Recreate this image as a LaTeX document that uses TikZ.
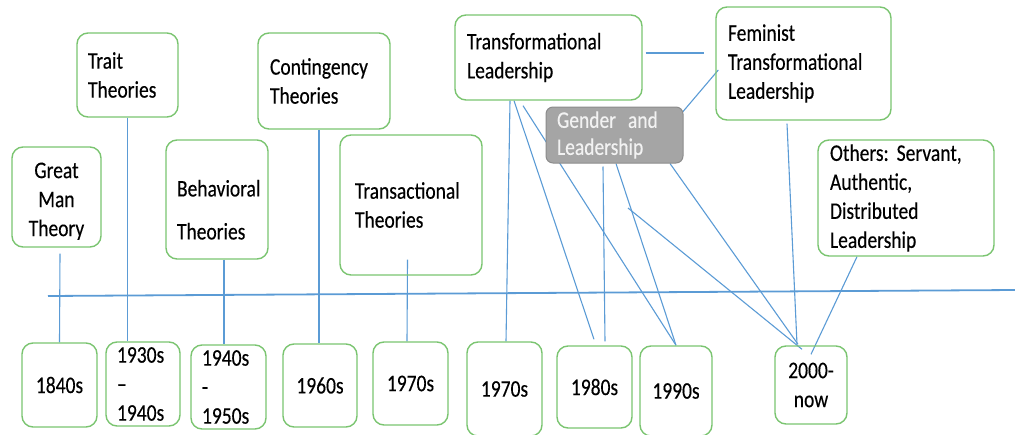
\documentclass[tikz,border=0pt]{standalone}
\usepackage{fontspec}
\setmainfont{Carlito}[FakeStretch=0.82,FakeBold=0.3]
\usetikzlibrary{backgrounds,calc}
\definecolor{boxgreen}{RGB}{122,196,112}
\definecolor{lineblue}{RGB}{91,155,213}
\definecolor{gbfill}{RGB}{165,165,165}
\definecolor{gbdraw}{RGB}{140,140,140}
\definecolor{gbtext}{RGB}{242,242,242}
\tikzset{
  theory/.style={draw=boxgreen, line width=1.4pt, rounded corners=11pt, inner xsep=11pt, inner ysep=0pt,
    align=left, font=\fontsize{23.8}{29}\selectfont\frenchspacing, text=black},
  datebox/.style={draw=boxgreen, line width=1.4pt, rounded corners=11pt, inner sep=0pt,
    align=center, font=\fontsize{23.8}{29}\selectfont, text=black},
  graybox/.style={draw=gbdraw, fill=gbfill, line width=1pt, rounded corners=7pt, inner xsep=11pt, inner ysep=0pt,
    align=left, font=\fontsize{23.8}{27}\selectfont, text=gbtext},
  conn/.style={draw=lineblue, line width=1.1pt},
  tline/.style={draw=lineblue, line width=1.8pt},
}
\begin{document}
\begin{tikzpicture}[x=1pt,y=-1pt]
\useasboundingbox (0,0) rectangle (1015,434);
% theory boxes
\node[theory, text width=67pt, minimum height=100pt, align=center] (gm) at (56.5,197) {\rule{0pt}{24pt}Great\\Man\\Theory};
\node[theory, text width=79pt, minimum height=84pt] (tr) at (127.5,75) {Trait\\Theories};
\node[theory, text width=80pt, minimum height=119pt] (bh) at (217,199.5) {\rule{0pt}{37pt}Behavioral\\[14pt]Theories};
\node[theory, text width=108pt, minimum height=96pt, inner xsep=12pt] (co) at (324,81) {Contingency\\Theories};
\node[theory, text width=112pt, minimum height=140pt, inner xsep=15pt] (ta) at (411,205) {Transactional\\Theories};
\node[theory, text width=163pt, minimum height=85pt, inner xsep=12pt] (tf) at (548.5,57.5) {Transformational\\Leadership};
\node[graybox, text width=115pt, minimum height=56pt] (ge) at (614.5,135) {Gender\hspace{4pt} and\\Leadership};
\node[theory, text width=151pt, minimum height=113pt, inner xsep=12pt] (fe) at (803.5,63.5) {Feminist\\Transformational\\Leadership};
\node[theory, text width=152pt, minimum height=116pt, inner xsep=12pt] (ot) at (906,198) {Others: Servant,\\Authentic,\\Distributed\\Leadership};
% date boxes
\node[datebox, minimum width=75pt, minimum height=84pt] (d1840) at (59.5,385) {1840s};
\node[datebox, minimum width=74pt, minimum height=84pt, align=left, text width=52pt] (d1930) at (143,384) {1930s\\–\\1940s};
\node[datebox, minimum width=75pt, minimum height=84pt, align=left, text width=53pt] (d1940) at (228.5,387) {1940s\\-\\1950s};
\node[datebox, minimum width=74pt, minimum height=83pt] (d1960) at (320,385.5) {1960s};
\node[datebox, minimum width=75pt, minimum height=83pt] (d1970a) at (410.5,383.5) {1970s};
\node[datebox, minimum width=75pt, minimum height=94pt] (d1970b) at (504.5,389) {1970s};
\node[datebox, minimum width=75pt, minimum height=82pt] (d1980) at (594.5,387) {1980s};
\node[datebox, minimum width=72pt, minimum height=90pt] (d1990) at (676,391) {1990s};
\node[datebox, minimum width=72pt, minimum height=78pt] (d2000) at (811,385) {2000-\\now};
% timeline and free point
\coordinate (tlA) at (48,296);
\coordinate (tlB) at (1015,290);
\coordinate (free) at (628,208);
\begin{pgfonlayer}{background}
\draw[tline] (tlA) -- (tlB);
\draw[conn] ([shift={(3.5,6)}]gm.south) -- (d1840.north);
\draw[conn] (tr.south) -- (tr.south |- d1930.north);
\draw[conn] ([xshift=7pt]bh.south) -- ([xshift=-4.5pt]d1940.north);
\draw[conn] ([xshift=-1pt]d1960.north |- co.south) -- ([xshift=-1pt]d1960.north);
\draw[conn] ([shift={(-3.5,-16)}]ta.south) -- ([xshift=-3.5pt]d1970a.north);
\draw[conn] ([xshift=-38.5pt]tf.south) -- ([xshift=1.5pt]d1970b.north);
\draw[conn] ([xshift=-34.5pt]tf.south) -- ([shift={(-0.5,-6)}]d1980.north);
\draw[conn] ([shift={(-25.5,5)}]tf.south) -- (d1990.north);
\draw[conn] ([shift={(-11.5,3)}]ge.south) -- ([shift={(10.5,-4)}]d1980.north);
\draw[conn] ([xshift=1.5pt]ge.south) -- (d1990.north);
\draw[conn] (free) -- ([shift={(-9,4)}]d2000.north);
\draw[conn] ([xshift=55.5pt]ge.south) -- ([shift={(-13,-1)}]d2000.north);
\draw[conn] ([shift={(-16.5,3)}]fe.south) -- ([shift={(-14,-1)}]d2000.north);
\draw[conn] ([xshift=-49pt]ot.south) -- ([shift={(0,9)}]d2000.north);
\draw[conn] ([shift={(3,-4.5)}]tf.east) -- ([shift={(-11,-10.5)}]fe.west);
\draw[conn] ([shift={(-3,8)}]ge.north east) -- ([shift={(3,6.5)}]fe.west);
\end{pgfonlayer}
\end{tikzpicture}
\end{document}
